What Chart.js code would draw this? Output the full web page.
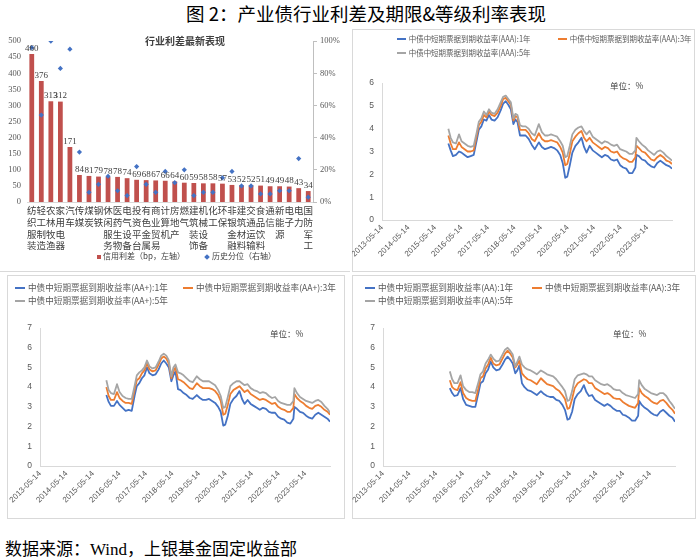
<!DOCTYPE html>
<html><head><meta charset="utf-8">
<script src="https://cdn.jsdelivr.net/npm/chart.js@4.4.1/dist/chart.umd.min.js"></script>
<style>
html,body{margin:0;padding:0;background:#fff;}
body{width:700px;height:560px;position:relative;overflow:hidden;font-family:"Noto Sans CJK SC","Liberation Sans",sans-serif;}
.a{position:absolute;white-space:nowrap;}
canvas{position:absolute;}
.box{position:absolute;border:1px solid #d9d9d9;box-sizing:border-box;}
.lg{position:absolute;white-space:nowrap;color:#595959;line-height:10px;height:10px;transform-origin:left center;}
.lg i{display:inline-block;width:10px;height:2px;vertical-align:middle;margin-right:3px;position:relative;top:-1px;}
</style></head>
<body>
<div class="a" style="left:186px;top:0px;font-size:18.5px;color:#000;">图 2：产业债行业利差及期限&amp;等级利率表现</div>
<div class="a" style="left:0;top:271px;width:350px;height:1px;background:#d9d9d9;"></div>
<div class="box" style="left:352px;top:29px;width:343px;height:243px;"></div>
<div class="box" style="left:7px;top:275px;width:338px;height:244px;"></div>
<div class="box" style="left:352px;top:275px;width:344px;height:244px;"></div>

<canvas id="c0" width="350" height="240" style="left:0;top:30px;"></canvas>
<canvas id="c1" width="343" height="240" style="left:352px;top:30px;"></canvas>
<canvas id="c2" width="338" height="243" style="left:7px;top:275px;"></canvas>
<canvas id="c3" width="343" height="243" style="left:352px;top:275px;"></canvas>

<div class="a" style="left:145px;top:33px;font-size:10px;font-weight:bold;color:#404040;">行业利差最新表现</div>
<div id="barLegend" class="a" style="left:97px;top:250px;font-size:8px;color:#404040;"></div>
<div class="a" style="left:610px;top:79px;font-size:8.5px;color:#404040;">单位：%</div>
<div class="a" style="left:270px;top:327px;font-size:8.5px;color:#404040;">单位：%</div>
<div class="a" style="left:613px;top:327px;font-size:8.5px;color:#404040;">单位：%</div>
<div id="legends"></div>
<div class="a" style="left:5px;top:535px;font-size:17px;color:#000;font-family:'Liberation Serif','Noto Sans CJK SC',serif;">数据来源：Wind，上银基金固定收益部</div>

<script>
// ---------------- Data ----------------
const industryNames = ['纺织服装','轻工制造','农林牧渔','家用电器','汽车','传媒','煤炭','钢铁','休闲服务','医药生物','电气设备','投资平台','有色金属','商业贸易','计算机','房地产','燃气','建筑装饰','机械设备','化工','环保','非银金融','建筑材料','交通运输','食品饮料','通信','新能源','电子','电力','国防军工'];
const spreadValues = [460,376,313,312,171,84,81,79,78,78,74,69,68,67,66,64,60,59,58,58,57,53,52,52,51,49,49,48,43,34];
const spreadPercentile = [96,54,100,83,95,31,6,11,16,7,4,22,11,6,19,12,20,4,6,6,15,19,10,10,5,5,7,7,27,3];
const barLegendNames = ['信用利差（bp，左轴）','历史分位（右轴）'];

const xTickLabels = ['2013-05-14','2014-05-14','2015-05-14','2016-05-14','2017-05-14','2018-05-14','2019-05-14','2020-05-14','2021-05-14','2022-05-14','2023-05-14'];
const rateDates = ['2015-11-13','2015-12-15','2016-01-15','2016-02-26','2016-04-08','2016-05-13','2016-06-24','2016-08-05','2016-09-16','2016-10-28','2016-12-09','2017-01-06','2017-02-10','2017-03-17','2017-04-21','2017-05-26','2017-06-30','2017-08-11','2017-09-22','2017-11-03','2017-12-08','2018-01-12','2018-02-16','2018-03-23','2018-04-27','2018-05-25','2018-06-22','2018-07-27','2018-08-31','2018-10-12','2018-11-23','2019-01-04','2019-02-15','2019-04-12','2019-05-24','2019-07-05','2019-08-16','2019-09-27','2019-11-08','2019-12-20','2020-01-31','2020-03-06','2020-04-10','2020-05-08','2020-06-12','2020-07-17','2020-08-28','2020-10-09','2020-11-20','2020-12-25','2021-01-29','2021-03-12','2021-04-23','2021-06-04','2021-07-16','2021-08-27','2021-10-08','2021-11-19','2021-12-31','2022-02-11','2022-03-25','2022-05-06','2022-06-17','2022-07-29','2022-09-09','2022-10-21','2022-12-02','2022-12-16','2023-01-20','2023-03-03','2023-04-14','2023-05-26','2023-07-07','2023-08-18','2023-09-29','2023-11-10','2023-12-22','2024-02-02','2024-03-15','2024-04-19'];

const aaa1Y = [3.35,3.05,2.80,2.85,3.00,2.95,2.85,2.75,2.80,2.85, 3.50,3.95,4.10,4.40,4.35,4.60,4.40,4.35,4.50,4.80, 5.10,5.20,5.05,4.85,4.20,4.40,4.30,3.70,3.70,3.70, 3.55,3.30,3.10,3.40,3.20,3.10,3.15,3.20,3.15,3.05, 2.85,2.50,1.85,1.90,2.40,2.95,3.25,3.40,3.60,3.20, 2.95,3.25,3.05,2.95,2.85,2.75,2.85,2.80,2.65,2.60, 2.65,2.40,2.30,2.25,2.05,2.05,2.30,2.85,2.80,2.65, 2.60,2.45,2.35,2.30,2.50,2.60,2.50,2.40,2.35,2.25];
const aaa3Y = [3.70,3.35,3.10,3.10,3.40,3.20,3.10,3.00,3.00,3.05, 3.70,4.15,4.30,4.60,4.50,4.75,4.60,4.55,4.70,5.00, 5.30,5.35,5.20,5.05,4.35,4.55,4.50,3.95,3.95,3.95, 3.80,3.55,3.45,3.80,3.55,3.45,3.45,3.50,3.45,3.40, 3.20,2.95,2.40,2.45,2.90,3.45,3.65,3.80,3.90,3.60, 3.45,3.60,3.40,3.30,3.20,3.10,3.20,3.15,3.00,2.95, 3.00,2.80,2.70,2.65,2.55,2.55,2.75,3.25,3.15,3.00, 2.95,2.80,2.65,2.60,2.75,2.85,2.75,2.60,2.55,2.45];
const aaa5Y = [4.00,3.60,3.40,3.35,3.75,3.45,3.35,3.25,3.20,3.25, 3.85,4.30,4.45,4.75,4.60,4.85,4.70,4.65,4.85,5.15, 5.40,5.45,5.30,5.15,4.45,4.65,4.60,4.15,4.10,4.10, 4.00,3.80,3.70,4.20,3.85,3.70,3.70,3.75,3.70,3.65, 3.45,3.25,2.75,2.80,3.25,3.75,3.95,4.05,4.10,3.90, 3.75,3.90,3.65,3.55,3.45,3.35,3.45,3.40,3.30,3.25, 3.30,3.10,3.05,3.00,2.90,2.90,3.05,3.60,3.45,3.30, 3.20,3.05,2.95,2.85,3.00,3.05,2.95,2.80,2.70,2.60];

const aap1Y = [3.60,3.25,3.05,3.05,3.30,3.10,2.95,2.80,2.85,2.80, 3.60,4.05,4.20,4.45,4.60,5.00,4.70,4.60,4.65,4.90, 5.20,5.35,5.20,5.00,4.30,4.60,4.80,3.90,3.85,3.70, 3.60,3.45,3.40,3.60,3.45,3.35,3.35,3.40,3.30,3.20, 3.00,2.75,2.05,2.10,2.55,3.15,3.40,3.55,3.80,3.40, 3.15,3.35,3.15,3.05,2.95,2.85,2.95,2.90,2.75,2.70, 2.70,2.50,2.40,2.35,2.20,2.15,2.40,3.00,2.90,2.75, 2.70,2.55,2.45,2.40,2.60,2.70,2.60,2.50,2.40,2.25];
const aap3Y = [4.00,3.55,3.35,3.35,3.75,3.45,3.30,3.20,3.20,3.15, 3.90,4.35,4.45,4.70,4.85,5.20,4.90,4.80,4.85,5.15, 5.45,5.55,5.45,5.20,4.45,4.80,5.00,4.40,4.35,4.25, 4.10,3.95,3.90,4.20,4.05,3.95,3.95,3.95,3.90,3.80, 3.60,3.30,2.60,2.65,3.10,3.65,3.85,3.95,4.05,3.90, 3.75,3.85,3.65,3.55,3.45,3.35,3.40,3.35,3.25,3.15, 3.20,3.00,2.90,2.85,2.75,2.75,2.95,3.65,3.45,3.30, 3.20,3.05,2.95,2.90,3.05,3.10,3.00,2.85,2.75,2.60];
const aap5Y = [4.35,3.85,3.70,3.65,4.15,3.75,3.55,3.45,3.40,3.40, 4.10,4.60,4.75,4.85,5.00,5.35,5.05,4.95,5.00,5.30, 5.60,5.70,5.60,5.35,4.55,5.00,5.15,4.75,4.70,4.60, 4.45,4.30,4.25,4.55,4.40,4.30,4.30,4.30,4.20,4.10, 3.85,3.55,2.95,3.00,3.50,4.05,4.20,4.30,4.30,4.20, 4.10,4.15,3.95,3.85,3.80,3.70,3.75,3.70,3.55,3.45, 3.50,3.30,3.20,3.15,3.10,3.10,3.30,3.95,3.70,3.50, 3.40,3.30,3.25,3.20,3.30,3.35,3.25,3.05,2.90,2.70];

const aa1Y = [3.95,3.70,3.55,3.60,3.95,3.40,3.10,3.05,3.00,3.00, 3.70,4.20,4.30,4.70,4.90,5.30,5.00,4.85,4.90,5.15, 5.40,5.55,5.40,5.20,4.70,4.85,5.10,4.20,4.00,3.85, 3.80,3.70,3.60,3.80,3.65,3.55,3.50,3.50,3.35,3.30, 3.10,2.85,2.35,2.40,2.75,3.40,3.65,3.80,4.10,3.75, 3.55,3.60,3.35,3.25,3.15,3.05,3.15,3.05,2.90,2.80, 2.80,2.60,2.55,2.45,2.30,2.30,2.55,3.30,3.10,2.95, 2.85,2.70,2.60,2.55,2.75,2.85,2.70,2.55,2.45,2.25];
const aa3Y = [4.35,4.00,3.90,3.85,4.25,3.70,3.45,3.35,3.30,3.30, 3.95,4.45,4.55,4.95,5.15,5.50,5.20,5.10,5.15,5.45, 5.70,5.85,5.70,5.50,5.00,5.15,5.35,4.70,4.55,4.40, 4.35,4.25,4.15,4.45,4.30,4.15,4.10,4.05,3.90,3.80, 3.60,3.40,2.90,2.95,3.40,3.95,4.20,4.30,4.40,4.35, 4.20,4.20,3.95,3.85,3.75,3.65,3.70,3.60,3.45,3.40, 3.40,3.25,3.15,3.05,3.00,2.95,3.20,3.95,3.70,3.55, 3.45,3.30,3.20,3.15,3.30,3.35,3.20,3.00,2.85,2.65];
const aa5Y = [4.80,4.40,4.20,4.20,4.60,4.05,3.85,3.75,3.75,3.70, 4.25,4.65,4.80,5.20,5.40,5.65,5.45,5.30,5.35,5.65, 5.90,6.00,5.85,5.65,5.05,5.30,5.55,5.15,5.00,4.90, 4.85,4.75,4.65,4.85,4.75,4.65,4.60,4.55,4.40,4.20, 4.00,3.80,3.30,3.35,3.80,4.40,4.60,4.65,4.70,4.65, 4.55,4.55,4.35,4.25,4.15,4.10,4.15,4.05,3.90,3.85, 3.85,3.70,3.60,3.55,3.50,3.45,3.65,4.35,4.10,3.90, 3.80,3.70,3.65,3.60,3.70,3.70,3.55,3.30,3.10,2.90];

const namesAAA = ['中债中短期票据到期收益率(AAA):1年','中债中短期票据到期收益率(AAA):3年','中债中短期票据到期收益率(AAA):5年'];
const namesAAp = ['中债中短期票据到期收益率(AA+):1年','中债中短期票据到期收益率(AA+):3年','中债中短期票据到期收益率(AA+):5年'];
const namesAA  = ['中债中短期票据到期收益率(AA):1年','中债中短期票据到期收益率(AA):3年','中债中短期票据到期收益率(AA):5年'];

// ---------------- Helpers ----------------
const BLUE = '#4472C4', ORANGE = '#ED7D31', GRAY = '#A5A5A5', RED = '#C0504D';
const CJK = '"Noto Sans CJK SC", sans-serif';
const SERIF = '"Liberation Serif", "Noto Sans CJK SC", serif';
const SANS = '"Liberation Sans", "Noto Sans CJK SC", sans-serif';
Chart.defaults.font.family = CJK;

function toYear(s) {
  const d = Date.parse(s + 'T00:00:00Z');
  const y = Number(s.slice(0, 4));
  const a = Date.UTC(y, 0, 1), b = Date.UTC(y + 1, 0, 1);
  return y + (d - a) / (b - a);
}
const rateX = rateDates.map(toYear);
const X_MIN = toYear(xTickLabels[0]);
const X_MAX = toYear(rateDates[rateDates.length - 1]);

// ---------------- Bar chart ----------------
const barValueLabels = {
  id: 'barValueLabels',
  afterDatasetsDraw(chart) {
    const idx = chart.data.datasets.findIndex(d => d.type === 'bar');
    const meta = chart.getDatasetMeta(idx);
    const ctx = chart.ctx;
    ctx.save();
    ctx.font = '9px ' + SERIF;
    ctx.fillStyle = '#404040';
    ctx.textAlign = 'center';
    ctx.textBaseline = 'bottom';
    meta.data.forEach((bar, i) => ctx.fillText(String(spreadValues[i]), bar.x, bar.y - 1));
    ctx.restore();
  }
};

new Chart(document.getElementById('c0'), {
  type: 'bar',
  data: {
    labels: industryNames.map(n => n.split('')),
    datasets: [
      { type: 'line', label: barLegendNames[1], data: spreadPercentile, yAxisID: 'y2', showLine: false,
        pointStyle: 'rectRot', pointRadius: 2.6, pointBackgroundColor: BLUE, pointBorderColor: BLUE, pointBorderWidth: 0, order: 0 },
      { type: 'bar', label: barLegendNames[0], data: spreadValues, yAxisID: 'y', backgroundColor: RED,
        barPercentage: 0.5, categoryPercentage: 1, order: 1 }
    ]
  },
  options: {
    responsive: false, animation: false,
    layout: { padding: { top: 8, left: 0, right: 0, bottom: 16 } },
    plugins: { legend: { display: false }, tooltip: { enabled: false } },
    scales: {
      x: { grid: { display: false, drawTicks: false }, border: { display: true, color: '#d9d9d9' },
           ticks: { autoSkip: false, maxRotation: 0, minRotation: 0, padding: 3, color: '#404040',
                    font: { family: CJK, size: 9.5, lineHeight: 1.22 } },
           afterFit: s => { s.height = 52; } },
      y: { position: 'left', min: 0, max: 500,
           ticks: { stepSize: 50, padding: 6, color: '#595959', font: { family: SERIF, size: 8.5 } },
           grid: { display: false, drawTicks: false }, border: { display: false },
           afterFit: s => { s.width = 27; } },
      y2: { position: 'right', min: 0, max: 100,
            ticks: { stepSize: 20, padding: 3, color: '#595959', font: { family: SERIF, size: 8.5 }, callback: v => v + '%' },
            grid: { display: true, drawOnChartArea: false, drawTicks: true, tickLength: 4, color: '#bfbfbf' },
            border: { display: true, color: '#bfbfbf' },
            afterFit: s => { s.width = 37; } }
    }
  },
  plugins: [barValueLabels]
});

// bar legend (HTML)
document.getElementById('barLegend').innerHTML =
  '<span style="display:inline-block;width:4px;height:4px;background:' + RED + ';vertical-align:middle;margin-right:2px;"></span>' + barLegendNames[0] +
  '<span style="display:inline-block;width:4px;height:4px;background:' + BLUE + ';transform:rotate(45deg);vertical-align:middle;margin:0 3px 0 20px;"></span>' + barLegendNames[1];

// ---------------- Line charts ----------------
function lineChart(id, s1, s3, s5, g) {
  const mk = (arr) => rateX.map((x, i) => ({ x: x, y: arr[i] }));
  new Chart(document.getElementById(id), {
    type: 'line',
    data: { datasets: [
      { data: mk(s1), borderColor: BLUE, order: 2 },
      { data: mk(s3), borderColor: ORANGE, order: 1 },
      { data: mk(s5), borderColor: GRAY, order: 0 }
    ] },
    options: {
      responsive: false, animation: false,
      layout: { padding: { top: g.top, right: g.right, left: 0, bottom: g.bottom } },
      elements: { point: { radius: 0 }, line: { borderWidth: 1.8, tension: 0, borderJoinStyle: 'round' } },
      plugins: { legend: { display: false }, tooltip: { enabled: false } },
      scales: {
        x: { type: 'linear', min: X_MIN, max: X_MAX,
             afterBuildTicks: s => { s.ticks = xTickLabels.map(t => ({ value: toYear(t) })); },
             afterFit: s => { s.height = g.xh; s.paddingLeft = 0; s.paddingRight = 0; },
             ticks: { callback: (v, i) => xTickLabels[i], autoSkip: false, maxRotation: 45, minRotation: 45,
                      padding: 3, color: '#595959', font: { family: SANS, size: 8 } },
             grid: { display: false, drawTicks: false }, border: { display: true, color: '#d9d9d9' } },
        y: { min: 0, max: g.ymax,
             ticks: { stepSize: 1, padding: 8, color: '#595959', font: { family: SANS, size: 8.5 } },
             grid: { display: false, drawTicks: false }, border: { display: true, color: '#d9d9d9' },
             afterFit: s => { s.width = g.yw; } }
      }
    }
  });
}
lineChart('c1', aaa1Y, aaa3Y, aaa5Y, { top: 53, right: 23, bottom: 4, xh: 46, yw: 30, ymax: 6 });
lineChart('c2', aap1Y, aap3Y, aap5Y, { top: 53, right: 15, bottom: 6, xh: 46, yw: 33, ymax: 7 });
lineChart('c3', aa1Y, aa3Y, aa5Y, { top: 53, right: 20, bottom: 6, xh: 46, yw: 31, ymax: 7 });

// ---------------- Line legends (HTML) ----------------
function legend(names, spots, size, sx) {
  const colors = [BLUE, ORANGE, GRAY];
  let html = '';
  names.forEach((n, i) => {
    const p = spots[i];
    html += '<div class="lg" style="left:' + p[0] + 'px;top:' + (p[1] - 5) + 'px;font-size:' + size + 'px;transform:scaleX(' + sx + ');"><i style="background:' + colors[i] + '"></i>' + n + '</div>';
  });
  return html;
}
document.getElementById('legends').innerHTML =
  legend(namesAAA, [[397, 38], [558, 38], [397, 52]], 8.3, 0.9) +
  legend(namesAAp, [[15, 287], [183, 287], [15, 300]], 8.6, 1) +
  legend(namesAA, [[365, 287], [532, 287], [365, 300]], 8.6, 1);
</script>
</body></html>
